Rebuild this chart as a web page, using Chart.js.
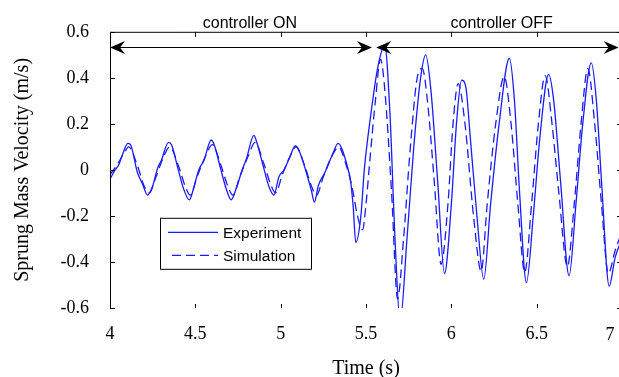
<!DOCTYPE html>
<html>
<head>
<meta charset="utf-8">
<title>Sprung mass velocity</title>
<script src="https://cdn.jsdelivr.net/npm/chart.js@4.4.0/dist/chart.umd.min.js"></script>
<style>
  html, body { margin: 0; padding: 0; background: #fff; overflow: hidden; }
  #wrap { width: 619px; height: 377px; overflow: hidden; }
</style>
</head>
<body>
<div id="wrap"><canvas id="velocityChart" width="640" height="377"></canvas></div>
<script>
const expTime = [4.00, 4.03, 4.05, 4.07, 4.105, 4.12, 4.16, 4.19, 4.22, 4.25, 4.28, 4.30, 4.343, 4.36, 4.40, 4.43, 4.465, 4.49, 4.52, 4.55, 4.593, 4.61, 4.65, 4.68, 4.71, 4.74, 4.77, 4.80, 4.843, 4.86, 4.90, 4.93, 4.96, 4.99, 5.02, 5.05, 5.087, 5.11, 5.15, 5.18, 5.198, 5.22, 5.26, 5.30, 5.337, 5.36, 5.385, 5.41, 5.425, 5.44, 5.47, 5.49, 5.53, 5.57, 5.61, 5.64, 5.67, 5.70, 5.74, 5.78, 5.82, 5.85, 5.88, 5.92, 5.96, 6.00, 6.03, 6.06, 6.085, 6.11, 6.15, 6.19, 6.23, 6.28, 6.34, 6.37, 6.40, 6.44, 6.48, 6.52, 6.57, 6.60, 6.64, 6.69, 6.73, 6.77, 6.82, 6.85, 6.88, 6.925, 6.96, 7.00];
const expVel = [-0.04, 0.00, 0.02, 0.06, 0.115, 0.11, -0.01, -0.06, -0.11, -0.07, 0.01, 0.04, 0.12, 0.11, 0.00, -0.08, -0.13, -0.08, 0.00, 0.04, 0.13, 0.11, 0.00, -0.08, -0.13, -0.08, -0.01, 0.05, 0.15, 0.12, 0.01, -0.07, -0.11, -0.03, 0.00, 0.05, 0.105, 0.08, -0.01, -0.09, -0.14, -0.07, -0.01, 0.06, 0.115, 0.09, 0.03, -0.05, -0.16, -0.315, -0.2, 0.00, 0.25, 0.45, 0.54, 0.25, -0.3, -0.66, -0.3, 0.1, 0.4, 0.50, 0.35, -0.05, -0.45, -0.15, 0.2, 0.39, 0.36, 0.15, -0.2, -0.475, -0.15, 0.2, 0.485, 0.3, -0.1, -0.49, -0.2, 0.15, 0.415, 0.3, -0.05, -0.46, -0.15, 0.2, 0.465, 0.3, -0.05, -0.505, -0.38, -0.30];
const simTime = [4.00, 4.04, 4.08, 4.11, 4.16, 4.20, 4.23, 4.27, 4.31, 4.35, 4.40, 4.44, 4.47, 4.51, 4.56, 4.60, 4.65, 4.69, 4.72, 4.76, 4.81, 4.85, 4.90, 4.94, 4.97, 5.01, 5.05, 5.09, 5.14, 5.18, 5.21, 5.25, 5.30, 5.34, 5.38, 5.42, 5.45, 5.48, 5.50, 5.52, 5.555, 5.585, 5.61, 5.65, 5.685, 5.72, 5.76, 5.80, 5.83, 5.86, 5.90, 5.94, 5.98, 6.01, 6.04, 6.08, 6.13, 6.175, 6.21, 6.26, 6.31, 6.35, 6.39, 6.43, 6.47, 6.51, 6.55, 6.59, 6.63, 6.68, 6.72, 6.76, 6.80, 6.84, 6.88, 6.92, 6.96, 7.00];
const simVel = [-0.02, 0.02, 0.07, 0.10, 0.02, -0.07, -0.10, -0.03, 0.05, 0.10, 0.02, -0.07, -0.11, -0.03, 0.06, 0.11, 0.02, -0.07, -0.11, -0.03, 0.06, 0.12, 0.03, -0.06, -0.10, -0.02, 0.05, 0.10, 0.02, -0.07, -0.11, -0.03, 0.06, 0.10, 0.03, -0.08, -0.2, -0.26, -0.15, 0.02, 0.3, 0.48, 0.35, -0.1, -0.56, -0.3, 0.1, 0.4, 0.44, 0.3, -0.05, -0.41, -0.15, 0.2, 0.375, 0.2, -0.2, -0.44, -0.15, 0.2, 0.405, 0.2, -0.15, -0.445, -0.15, 0.2, 0.41, 0.2, -0.1, -0.42, -0.15, 0.2, 0.44, 0.2, -0.15, -0.45, -0.35, -0.27];

const xTicks = [4, 4.5, 5, 5.5, 6, 6.5, 7];
const yTicks = [-0.6, -0.4, -0.2, 0, 0.2, 0.4, 0.6];

// controller phases shown by the arrows above the traces
const phaseLabels = ['controller ON', 'controller OFF'];
const phaseStart = [4, 5.56];
const phaseEnd = [5.535, 6.98];
const phaseLabelAt = [4.82, 6.295];
const phaseArrowY = 0.535;

const seriesNames = ['Experiment', 'Simulation'];
const lineBlue = '#1a1aff';

function toPoints(t, v) {
    return t.map((x, i) => ({ x: x, y: v[i] }));
}

function arrowHead(ctx, x, y, dir) {
    ctx.beginPath();
    ctx.moveTo(x, y);
    ctx.lineTo(x - dir * 15, y - 6.5);
    ctx.lineTo(x - dir * 10, y);
    ctx.lineTo(x - dir * 15, y + 6.5);
    ctx.closePath();
    ctx.fill();
}

const framePlugin = {
    id: 'frame',
    afterDraw(chart) {
        const ctx = chart.ctx;
        const a = chart.chartArea;
        const xs = chart.scales.x, ys = chart.scales.y;
        ctx.save();
        ctx.strokeStyle = '#000';
        ctx.fillStyle = '#000';
        ctx.lineWidth = 1;

        // top edge and left axis (bottom edge is not drawn in the figure)
        ctx.beginPath();
        ctx.moveTo(a.left + 0.5, a.bottom);
        ctx.lineTo(a.left + 0.5, a.top + 0.5);
        ctx.lineTo(a.right, a.top + 0.5);
        ctx.stroke();

        // inward ticks
        ctx.beginPath();
        xTicks.forEach(v => {
            const px = Math.round(xs.getPixelForValue(v)) + 0.5;
            ctx.moveTo(px, a.top);
            ctx.lineTo(px, a.top + 5);
            ctx.moveTo(px, a.bottom);
            ctx.lineTo(px, a.bottom - 4);
        });
        yTicks.forEach(v => {
            const py = Math.round(ys.getPixelForValue(v)) + 0.5;
            ctx.moveTo(a.left, py);
            ctx.lineTo(a.left + 5, py);
            ctx.moveTo(a.right, py);
            ctx.lineTo(a.right - 5, py);
        });
        ctx.stroke();

        // last x label sits left of its tick in the figure
        ctx.font = '18px "Liberation Serif", "Times New Roman", serif';
        ctx.textAlign = 'center';
        ctx.textBaseline = 'alphabetic';
        ctx.fillText('7', xs.getPixelForValue(7) - 12, a.bottom + 32);

        // phase arrows and labels
        const ay = Math.round(ys.getPixelForValue(phaseArrowY)) + 0.5;
        ctx.font = '16px "Liberation Sans", Arial, sans-serif';
        phaseLabels.forEach((label, i) => {
            const x0 = xs.getPixelForValue(phaseStart[i]);
            const x1 = xs.getPixelForValue(phaseEnd[i]);
            ctx.beginPath();
            ctx.moveTo(x0 + 4, ay);
            ctx.lineTo(x1 - 4, ay);
            ctx.stroke();
            arrowHead(ctx, x0, ay, -1);
            arrowHead(ctx, x1, ay, 1);
            ctx.fillText(label, xs.getPixelForValue(phaseLabelAt[i]), a.top - 4);
        });

        // legend box
        const lx = a.left + 50, ly = a.top + 186, lw = 151, lh = 51;
        ctx.fillStyle = '#fff';
        ctx.fillRect(lx, ly, lw, lh);
        ctx.strokeRect(lx + 0.5, ly + 0.5, lw, lh);
        ctx.font = '15.5px "Liberation Sans", Arial, sans-serif';
        ctx.textAlign = 'left';
        chart.data.datasets.forEach((ds, i) => {
            const rowY = ly + 14 + i * 23;
            ctx.strokeStyle = ds.borderColor;
            ctx.lineWidth = ds.borderWidth;
            ctx.setLineDash(ds.borderDash || []);
            ctx.beginPath();
            ctx.moveTo(lx + (i ? 12 : 8), rowY + 0.5);
            ctx.lineTo(lx + 58, rowY + 0.5);
            ctx.stroke();
            ctx.setLineDash([]);
            ctx.fillStyle = '#000';
            ctx.fillText(ds.label, lx + 63, rowY + 6);
        });
        ctx.restore();
    }
};

const ctx = document.getElementById('velocityChart').getContext('2d');
const velocityChart = new Chart(ctx, {
    type: 'line',
    data: {
        datasets: [{
            label: seriesNames[0],
            data: toPoints(expTime, expVel),
            borderColor: lineBlue,
            borderWidth: 1.3,
            pointRadius: 0,
            cubicInterpolationMode: 'monotone',
            fill: false
        },
        {
            label: seriesNames[1],
            data: toPoints(simTime, simVel),
            borderColor: lineBlue,
            borderWidth: 1.3,
            borderDash: [9, 5],
            pointRadius: 0,
            cubicInterpolationMode: 'monotone',
            fill: false
        }]
    },
    options: {
        responsive: false,
        animation: false,
        events: [],
        layout: { padding: { top: 30, right: 18, left: 0, bottom: 0 } },
        plugins: {
            legend: { display: false },
            tooltip: { enabled: false }
        },
        scales: {
            x: {
                type: 'linear',
                min: 4,
                max: 7,
                afterBuildTicks: s => { s.ticks = xTicks.map(v => ({ value: v })); },
                afterFit: s => { s.height = 69; },
                grid: { display: false, drawTicks: false },
                border: { display: false },
                ticks: {
                    padding: 15,
                    maxRotation: 0,
                    autoSkip: false,
                    color: '#000',
                    font: { family: '"Liberation Serif", "Times New Roman", serif', size: 18 },
                    callback: v => (v === 7 ? '' : String(v))
                },
                title: {
                    display: true,
                    text: 'Time (s)',
                    color: '#000',
                    padding: { top: 0, bottom: 0 },
                    font: { family: '"Liberation Serif", "Times New Roman", serif', size: 20, lineHeight: 0.8 }
                }
            },
            y: {
                min: -0.6,
                max: 0.6,
                afterBuildTicks: s => { s.ticks = yTicks.map(v => ({ value: v })); },
                afterFit: s => { s.width = 110; },
                grid: { display: false, drawTicks: false },
                border: { display: false },
                ticks: {
                    padding: 21,
                    color: '#000',
                    font: { family: '"Liberation Serif", "Times New Roman", serif', size: 18 },
                    callback: v => String(Math.round(v * 10) / 10)
                },
                title: {
                    display: true,
                    text: 'Sprung Mass Velocity (m/s)',
                    color: '#000',
                    padding: { top: 11, bottom: 0 },
                    font: { family: '"Liberation Serif", "Times New Roman", serif', size: 20 }
                }
            }
        }
    },
    plugins: [framePlugin]
});
</script>
</body>
</html>
